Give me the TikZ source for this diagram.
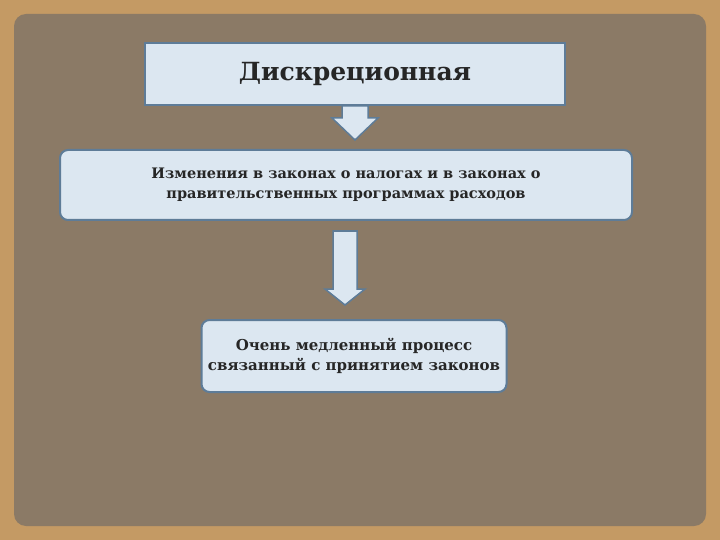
\documentclass[tikz,border=0pt]{standalone}
\usepackage{fontspec}
\setmainfont{DejaVu Serif}
\definecolor{cork}{HTML}{C49A64}
\definecolor{panel}{HTML}{8B7A66}
\definecolor{boxfill}{HTML}{DCE7F1}
\definecolor{boxline}{HTML}{5E7C98}
\tikzset{
 box/.style={draw=boxline,line width=2pt,fill=boxfill,align=center,font=\bfseries,text=black!85},
 arr/.style={draw=boxline,line width=1.5pt,fill=boxfill,line join=miter}
}
\begin{document}
\begin{tikzpicture}[x=1pt,y=-1pt]
\fill[cork] (0,0) rectangle (720,540);
\useasboundingbox (0,0) rectangle (720,540);
\fill[panel,rounded corners=12pt] (14,14) rectangle (706,526);
\node[box,minimum width=420pt,minimum height=62pt,font=\bfseries\fontsize{25}{30}\selectfont] (a) at (355,74) {Дискреционная};
\draw[arr] (342,106) -- (368,106) -- (368,118) -- (378,118) -- (355,140) -- (332,118) -- (342,118) -- cycle;
\node[box,rounded corners=8pt,minimum width=572pt,minimum height=70pt,font=\bfseries\fontsize{14.5}{20}\selectfont] (b) at (346,185) {Изменения в законах о налогах и в законах о\\правительственных программах расходов};
\draw[arr] (333,231) -- (357,231) -- (357,289) -- (365,289) -- (345,305) -- (325,289) -- (333,289) -- cycle;
\node[box,rounded corners=8pt,minimum width=305pt,minimum height=72pt,font=\bfseries\fontsize{15}{20}\selectfont] (c) at (354,356) {Очень медленный процесс\\связанный с принятием законов};
\end{tikzpicture}
\end{document}
